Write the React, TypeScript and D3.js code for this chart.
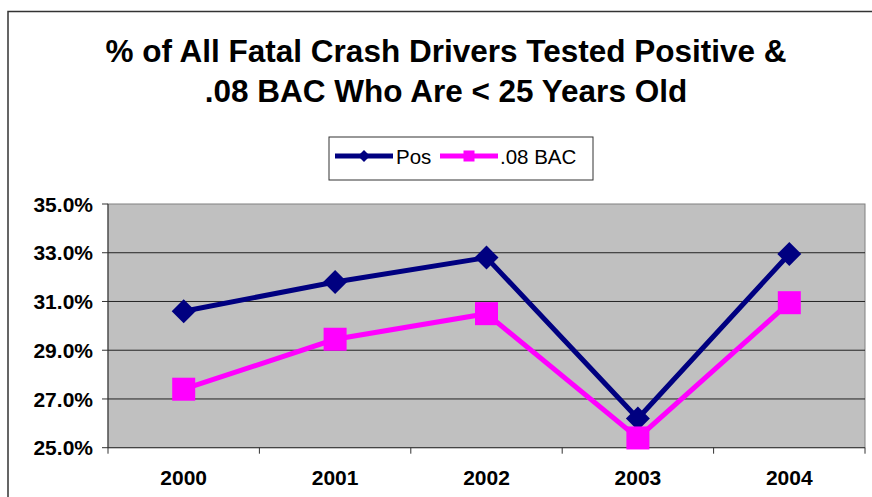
import React from "react";
import * as d3 from "d3";

const years = ["2000", "2001", "2002", "2003", "2004"];
const posValues = [30.6, 31.8, 32.8, 26.2, 32.95];
const bacValues = [27.4, 29.45, 30.5, 25.4, 30.95];
const yTicks = [25, 27, 29, 31, 33, 35];

const W = 872;
const H = 497;
const plot = { left: 108, right: 865, top: 204, bottom: 447.7 };

const NAVY = "#000080";
const MAGENTA = "#FF00FF";

const App = () => {
  const x = d3.scaleBand().domain(years).range([plot.left, plot.right]);
  const y = d3.scaleLinear().domain([25, 35]).range([plot.bottom, plot.top]);
  const cx = (d: string) => (x(d) as number) + x.bandwidth() / 2;

  const line = d3
    .line<number>()
    .x((_, i) => cx(years[i]))
    .y((v) => y(v));

  const diamond = (px: number, py: number, r: number) =>
    `M${px},${py - r}L${px + r},${py}L${px},${py + r}L${px - r},${py}Z`;

  const font = "'Liberation Sans', Arial, sans-serif";

  return (
    <svg
      width={W}
      height={H}
      style={{ position: "fixed", left: 0, top: 0, background: "#fff" }}
    >
      {/* chart frame */}
      <rect x={8} y={11.5} width={900} height={520} fill="#fff" stroke="#333" strokeWidth={1.5} />

      {/* title */}
      <text x={446} y={62} textAnchor="middle" fontFamily={font} fontWeight="bold" fontSize={31.5}>
        % of All Fatal Crash Drivers Tested Positive &amp;
      </text>
      <text x={446} y={102} textAnchor="middle" fontFamily={font} fontWeight="bold" fontSize={31.5}>
        .08 BAC Who Are &lt; 25 Years Old
      </text>

      {/* legend */}
      <g>
        <rect x={329} y={137} width={264} height={43} fill="#fff" stroke="#333" strokeWidth={1} />
        <line x1={335} x2={393} y1={156} y2={156} stroke={NAVY} strokeWidth={5} />
        <path d={diamond(364, 156, 6)} fill={NAVY} />
        <text x={396} y={164} fontFamily={font} fontSize={20.5}>Pos</text>
        <line x1={440} x2={498} y1={156} y2={156} stroke={MAGENTA} strokeWidth={5} />
        <rect x={463.5} y={150.5} width={11} height={11} fill={MAGENTA} />
        <text x={500} y={164} fontFamily={font} fontSize={20.5}>.08 BAC</text>
      </g>

      {/* plot area */}
      <rect
        x={plot.left}
        y={plot.top}
        width={plot.right - plot.left}
        height={plot.bottom - plot.top}
        fill="#C0C0C0"
        stroke="#808080"
        strokeWidth={1}
      />
      {yTicks.slice(1, -1).map((t) => (
        <line key={t} x1={plot.left} x2={plot.right} y1={y(t)} y2={y(t)} stroke="#222" strokeWidth={1} />
      ))}

      {/* axes */}
      <line x1={plot.left} x2={plot.left} y1={plot.top} y2={plot.bottom} stroke="#333" strokeWidth={1} />
      <line x1={plot.left} x2={plot.right} y1={plot.bottom} y2={plot.bottom} stroke="#333" strokeWidth={1} />
      {yTicks.map((t) => (
        <g key={t}>
          <line x1={plot.left - 6} x2={plot.left} y1={y(t)} y2={y(t)} stroke="#333" />
          <text
            x={93}
            y={y(t)}
            dy="0.36em"
            textAnchor="end"
            fontFamily={font}
            fontWeight="bold"
            fontSize={21}
          >
            {t.toFixed(1)}%
          </text>
        </g>
      ))}
      {years.map((yr, i) => (
        <line
          key={yr}
          x1={(x(yr) as number)}
          x2={(x(yr) as number)}
          y1={plot.bottom}
          y2={plot.bottom + 6}
          stroke="#333"
        />
      ))}
      <line x1={plot.right} x2={plot.right} y1={plot.bottom} y2={plot.bottom + 6} stroke="#333" />
      {years.map((yr) => (
        <text
          key={yr}
          x={cx(yr)}
          y={485}
          textAnchor="middle"
          fontFamily={font}
          fontWeight="bold"
          fontSize={21}
        >
          {yr}
        </text>
      ))}

      {/* series */}
      <path d={line(posValues) as string} fill="none" stroke={NAVY} strokeWidth={5} />
      {posValues.map((v, i) => (
        <path key={i} d={diamond(cx(years[i]), y(v), 12)} fill={NAVY} />
      ))}
      <path d={line(bacValues) as string} fill="none" stroke={MAGENTA} strokeWidth={5} />
      {bacValues.map((v, i) => (
        <rect key={i} x={cx(years[i]) - 11.5} y={y(v) - 11.5} width={23} height={23} fill={MAGENTA} />
      ))}
    </svg>
  );
};

export default App;
